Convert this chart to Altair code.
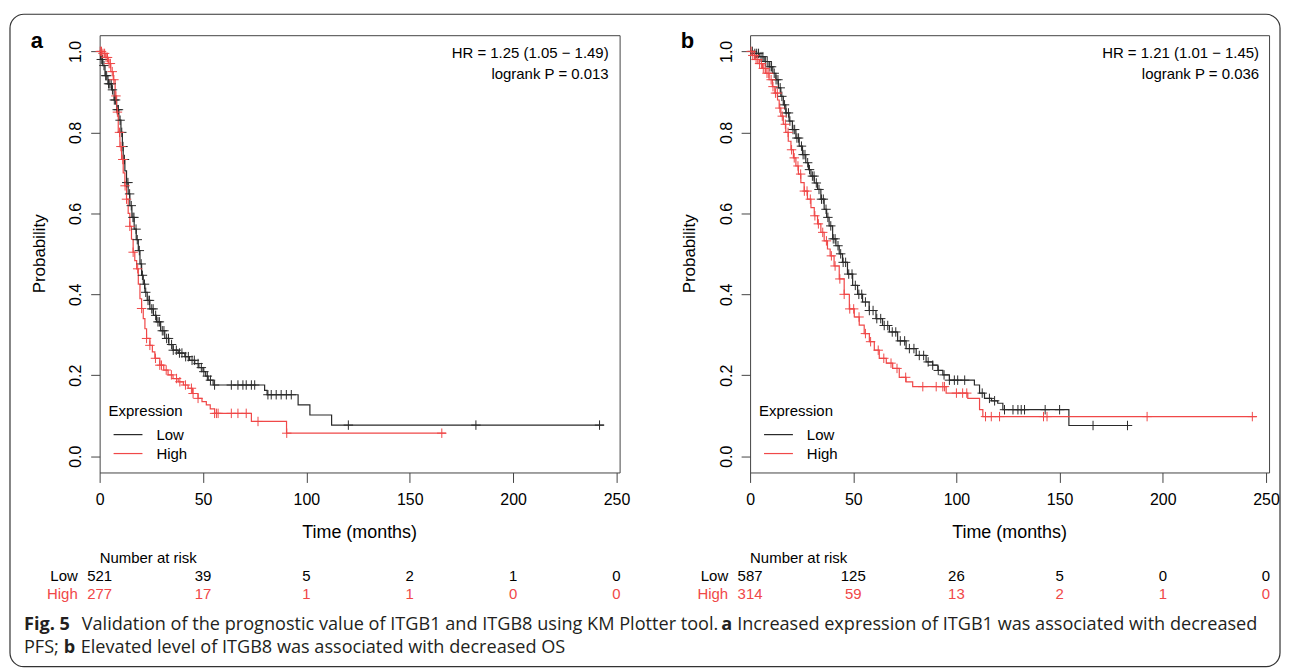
import altair as alt
import pandas as pd
import numpy as np

# ---------------- data ----------------
# Panel a (ITGB1, PFS): Kaplan-Meier steps (time in months, survival after step)
a_low_t = [0, 0.5, 1.5, 2.6, 4.0, 5.8, 7.0, 8.2, 9.3, 10.3, 11.0, 11.4, 12.2, 13.0, 13.8, 14.6, 15.6,
           16.7, 17.7, 18.7, 19.5, 20.3, 21.1, 21.9, 23.0, 24.3, 26.0, 27.5, 29.5, 31.5, 33.5, 35.5,
           38.0, 41.2, 43.5, 46.0, 48.0, 50.0, 51.3, 52.5, 54.9, 79.8, 81.0, 96.0, 101.7, 112.2]
a_low_s = [1.0, 0.98, 0.965, 0.94, 0.92, 0.905, 0.88, 0.856, 0.83, 0.80, 0.765, 0.733, 0.705, 0.676,
           0.648, 0.619, 0.59, 0.561, 0.535, 0.508, 0.475, 0.447, 0.425, 0.405, 0.385, 0.364, 0.348,
           0.332, 0.31, 0.291, 0.276, 0.262, 0.255, 0.246, 0.237, 0.229, 0.219, 0.209, 0.198, 0.188,
           0.176, 0.163, 0.152, 0.127, 0.102, 0.077]
a_low_end = 243.9
a_high_t = [0, 1.0, 3.0, 4.2, 5.4, 6.6, 7.5, 8.2, 9.0, 9.8, 10.6, 11.4, 12.2, 13.0, 13.8, 14.6, 15.4,
            16.2, 17.0, 17.9, 18.7, 19.5, 20.3, 21.1, 21.9, 22.7, 24.3, 25.5, 26.7, 29.1, 31.0, 33.1,
            35.5, 38.0, 40.5, 42.8, 45.0, 47.6, 49.5, 51.6, 53.5, 55.6, 73.4, 90.4]
a_high_s = [1.0, 0.995, 0.985, 0.97, 0.95, 0.93, 0.89, 0.85, 0.80, 0.765, 0.733, 0.70, 0.668, 0.635,
            0.60, 0.568, 0.536, 0.504, 0.483, 0.463, 0.425, 0.389, 0.365, 0.34, 0.315, 0.291, 0.274,
            0.258, 0.242, 0.225, 0.213, 0.201, 0.192, 0.184, 0.176, 0.168, 0.155, 0.143, 0.135, 0.127,
            0.117, 0.106, 0.086, 0.057]
a_high_end = 167.5
a_low_cens = [0.8, 1.4, 2.1, 2.9, 3.4, 4.3, 4.9, 5.6, 6.2, 7.1, 7.7, 8.5, 9.1, 9.9, 10.7, 11.3, 12.0,
              13.1, 13.7, 14.5, 15.3, 16.1, 16.6, 17.6, 18.2, 19.2, 20.1, 20.7, 21.7, 22.3, 23.4, 24.1,
              25.2, 25.9, 27.1, 28.2, 28.9, 30.3, 31.1, 32.4, 33.3, 34.8, 35.6, 37.1, 38.6, 39.8, 41.6,
              42.9, 44.7, 45.8, 47.6, 49.2, 50.4, 52.1, 53.6, 55.6, 63.7, 66.9, 69.3, 70.9, 73.4, 75.0,
              81.4, 83.0, 85.4, 87.8, 90.3, 92.7, 120.3, 182.0, 241.8]
a_high_cens = [0.3, 0.9, 1.6, 2.4, 3.1, 3.8, 4.6, 5.2, 6.1, 6.9, 7.9, 8.6, 9.6, 10.3, 11.2, 12.3, 13.0,
               14.6, 16.2, 18.4, 20.3, 22.7, 24.3, 27.0, 29.1, 29.9, 32.2, 34.7, 37.2, 38.8, 41.5, 44.4,
               45.2, 47.6, 55.6, 56.5, 57.3, 63.7, 66.9, 70.9, 76.6, 90.5, 165.5]

# Panel b (ITGB8, OS)
b_low_t = [0, 2.0, 4.4, 6.8, 9.2, 11.0, 12.5, 13.7, 14.9, 16.1, 17.3, 18.9, 20.5, 22.2, 23.8, 25.4,
           27.0, 28.3, 29.5, 31.1, 32.7, 34.3, 35.9, 37.1, 38.3, 40.0, 41.6, 43.2, 44.8, 47.2, 49.7,
           52.1, 54.5, 57.7, 61.0, 64.2, 67.5, 71.5, 75.6, 80.5, 85.3, 88.5, 91.0, 93.4, 96.6, 108.7,
           111.2, 113.6, 117.0, 120.0, 122.5, 154.5]
b_low_s = [1.0, 0.995, 0.987, 0.975, 0.962, 0.946, 0.93, 0.91, 0.889, 0.868, 0.848, 0.828, 0.807,
           0.786, 0.766, 0.745, 0.725, 0.708, 0.692, 0.675, 0.659, 0.635, 0.61, 0.59, 0.569, 0.537,
           0.52, 0.50, 0.479, 0.45, 0.422, 0.40, 0.381, 0.36, 0.34, 0.323, 0.307, 0.285, 0.266, 0.249,
           0.233, 0.225, 0.212, 0.201, 0.188, 0.176, 0.156, 0.143, 0.137, 0.131, 0.115, 0.076]
b_low_end = 184.0
b_high_t = [0, 1.0, 2.5, 4.4, 6.0, 7.6, 9.2, 10.8, 12.0, 13.3, 14.1, 14.9, 16.1, 17.3, 18.5, 19.8,
            21.0, 22.2, 23.4, 24.6, 26.2, 27.8, 29.5, 31.1, 32.7, 34.3, 35.9, 37.5, 38.8, 40.7, 43.2,
            45.6, 48.1, 50.5, 52.9, 55.3, 57.8, 60.2, 62.6, 66.0, 69.1, 72.3, 75.6, 78.8, 95.0, 105.5,
            111.2, 112.8]
b_high_s = [1.0, 0.99, 0.98, 0.97, 0.958, 0.946, 0.93, 0.913, 0.897, 0.88, 0.86, 0.84, 0.82, 0.80,
            0.778, 0.757, 0.737, 0.717, 0.697, 0.676, 0.655, 0.635, 0.614, 0.594, 0.574, 0.553, 0.532,
            0.512, 0.495, 0.47, 0.438, 0.40, 0.364, 0.344, 0.324, 0.303, 0.283, 0.262, 0.242, 0.23,
            0.217, 0.195, 0.184, 0.172, 0.156, 0.143, 0.115, 0.098]
b_high_end = 245.5
b_low_cens = [1.1, 2.3, 3.2, 4.1, 5.3, 6.2, 7.4, 8.3, 9.6, 10.4, 11.7, 12.6, 13.5, 14.6, 15.4, 16.7,
              17.5, 18.6, 19.3, 20.8, 21.6, 22.7, 23.5, 24.9, 25.7, 26.6, 27.9, 28.8, 30.2, 31.0, 32.1,
              33.4, 34.6, 35.5, 36.8, 37.7, 39.1, 40.3, 41.2, 42.6, 43.9, 45.1, 46.3, 47.8, 49.4, 51.0,
              52.7, 54.1, 55.9, 57.8, 59.6, 61.4, 63.3, 65.0, 66.7, 68.9, 70.6, 72.8, 74.9, 77.2, 79.4,
              82.0, 84.1, 86.3, 88.5, 91.2, 94.0, 96.6, 99.0, 100.6, 104.0, 112.5, 116.0, 118.5, 123.3,
              127.4, 129.8, 131.4, 133.0, 143.0, 150.0, 166.2, 182.9]
b_high_cens = [0.5, 1.3, 2.1, 2.9, 3.7, 4.6, 5.5, 6.4, 7.3, 8.2, 9.1, 10.2, 11.1, 12.3, 13.2, 14.4,
               15.6, 17.1, 18.4, 20.1, 21.4, 23.2, 24.5, 26.3, 27.6, 29.2, 31.4, 33.1, 35.2, 37.0, 39.4,
               41.2, 43.5, 45.6, 48.3, 50.2, 52.8, 55.9, 58.4, 62.1, 64.8, 68.3, 71.2, 75.4, 83.7, 90.2,
               93.4, 94.2, 100.0, 103.0, 105.0, 114.1, 116.9, 120.9, 142.2, 143.9, 192.4, 243.4]

risk_times = [0, 50, 100, 150, 200, 250]
a_risk_low = [521, 39, 5, 2, 1, 0]
a_risk_high = [277, 17, 1, 1, 0, 0]
b_risk_low = [587, 125, 26, 5, 0, 0]
b_risk_high = [314, 59, 13, 2, 1, 0]

groups = ["Low", "High"]
x_ticks = [0, 50, 100, 150, 200, 250]
y_ticks = [0.0, 0.2, 0.4, 0.6, 0.8, 1.0]

# ---------------- styling ----------------
BLACK = "#2a2a2a"
RED = "#f04848"
CAPC = "#231f20"
PF = "Liberation Sans"
CF = "Open Sans"
W_A, W_B, H = 522, 521, 439
ONE = pd.DataFrame({"k": [0]})


def curve_df(ts, ss, end, grp):
    return pd.DataFrame({"t": list(ts) + [end], "s": list(ss) + [ss[-1]], "grp": grp})


def cens_df(ts, ss, cens, grp):
    tt = np.asarray(ts)
    idx = np.searchsorted(tt, np.asarray(cens), side="right") - 1
    return pd.DataFrame({"t": cens, "s": np.asarray(ss)[idx], "grp": grp})


def T(text, x, y, size=15, weight="normal", align="left", color="black", font=PF, angle=0):
    kw = dict(text=text, fontSize=size, fontWeight=weight, align=align, baseline="middle",
              color=color, font=font)
    if angle:
        kw["angle"] = angle
    return alt.Chart(ONE).mark_text(**kw).encode(x=alt.value(x), y=alt.value(y))


def panel(letter, lt, ls, lend, ht, hs, hend, lc, hc, rl, rh, hr, pval, width, extra=None):
    xs = alt.Scale(domain=[0, 251.5], nice=False, zero=False)
    ys = alt.Scale(domain=[-0.04, 1.04], nice=False, zero=False)
    xax = alt.Axis(values=x_ticks, tickSize=10, labelPadding=9, domain=False, grid=False,
                   labelFontSize=16, labelFont=PF, labelColor="black", tickColor="#444",
                   title=None, labelFlush=False)
    yax = alt.Axis(values=y_ticks, format=".1f", tickSize=9, labelPadding=7, domain=False,
                   grid=False, labelFontSize=16, labelFont=PF, labelColor="black",
                   tickColor="#444", labelAngle=270, labelAlign="center",
                   labelBaseline="bottom", title=None, labelFlush=False)
    X = alt.X("t:Q", scale=xs, axis=xax)
    Y = alt.Y("s:Q", scale=ys, axis=yax)
    col = alt.Color("grp:N", scale=alt.Scale(domain=groups, range=[BLACK, RED]), legend=None)

    curves = pd.concat([curve_df(lt, ls, lend, "Low"), curve_df(ht, hs, hend, "High")])
    cens = pd.concat([cens_df(lt, ls, lc, "Low"), cens_df(ht, hs, hc, "High")])

    layers = []
    if extra is not None:
        layers += extra
    for g in groups:
        layers.append(alt.Chart(curves[curves.grp == g]).mark_line(
            interpolate="step-after", strokeWidth=1.2).encode(x=X, y=Y, color=col))
    for g in groups:
        layers.append(alt.Chart(cens[cens.grp == g]).mark_point(
            shape="M-1,0L1,0M0,-1L0,1", filled=False, size=90, strokeWidth=1, opacity=1
        ).encode(x=X, y=Y, color=col))

    risk = pd.DataFrame({"t": risk_times * 2, "n": [str(v) for v in rl + rh],
                         "grp": ["Low"] * 6 + ["High"] * 6})
    layers.append(alt.Chart(risk[risk.grp == "Low"]).mark_text(
        fontSize=15, font=PF, baseline="middle", color="black").encode(
        x=X, y=alt.value(543), text="n:N"))
    layers.append(alt.Chart(risk[risk.grp == "High"]).mark_text(
        fontSize=15, font=PF, baseline="middle", color=RED).encode(
        x=X, y=alt.value(561), text="n:N"))

    layers += [
        T(letter, -63, 6, size=22, weight="bold", align="center"),
        T(hr, 511, 18, align="right"),
        T(pval, 511, 39, align="right"),
        T("Probability", -60, H / 2, size=17, align="center", angle=270),
        T("Time (months)", width / 2, 500, size=18, align="center"),
        T("Expression", 9, 377),
        alt.Chart(ONE).mark_rule(color=BLACK, strokeWidth=1.2).encode(
            x=alt.value(14), x2=alt.value(43), y=alt.value(401)),
        alt.Chart(ONE).mark_rule(color=RED, strokeWidth=1.2).encode(
            x=alt.value(14), x2=alt.value(43), y=alt.value(420)),
        T("Low", 57, 401),
        T("High", 57, 420),
        T("Number at risk", 0, 525),
        T("Low", -22, 543, align="right"),
        T("High", -22, 561, align="right", color=RED),
    ]
    return alt.layer(*layers).properties(width=width, height=H)


frame = [alt.Chart(ONE).mark_rect(cornerRadius=14, fillOpacity=0, stroke="#333",
                                  strokeWidth=1.2).encode(
    x=alt.value(-90), x2=alt.value(1185), y=alt.value(-21), y2=alt.value(634))]

CS = 18.2
caption = [
    T("Fig. 5", -76, 592, size=CS, weight="bold", font=CF, color=CAPC),
    T("Validation of the prognostic value of ITGB1 and ITGB8 using KM Plotter tool.", -18, 592,
      size=CS, font=CF, color=CAPC),
    T("a", 624, 592, size=CS, weight="bold", font=CF, color=CAPC),
    T("Increased expression of ITGB1 was associated with decreased", 640, 592, size=CS,
      font=CF, color=CAPC),
    T("PFS;", -76, 615, size=CS, font=CF, color=CAPC),
    T("b", -36, 615, size=CS, weight="bold", font=CF, color=CAPC),
    T("Elevated level of ITGB8 was associated with decreased OS", -19, 615, size=CS, font=CF,
      color=CAPC),
]

pa = panel("a", a_low_t, a_low_s, a_low_end, a_high_t, a_high_s, a_high_end, a_low_cens,
           a_high_cens, a_risk_low, a_risk_high, "HR = 1.25 (1.05 \u2212 1.49)",
           "logrank P = 0.013", W_A, extra=frame + caption)
pb = panel("b", b_low_t, b_low_s, b_low_end, b_high_t, b_high_s, b_high_end, b_low_cens,
           b_high_cens, b_risk_low, b_risk_high, "HR = 1.21 (1.01 \u2212 1.45)",
           "logrank P = 0.036", W_B)

chart = alt.hconcat(pa, pb, spacing=131, bounds="flush").properties(
    padding={"left": 0, "top": 3, "right": 0, "bottom": 0},
    background="white",
).configure_view(stroke="#444", strokeWidth=1)

chart.save("out.html", embed_options={"renderer": "svg", "actions": False})
